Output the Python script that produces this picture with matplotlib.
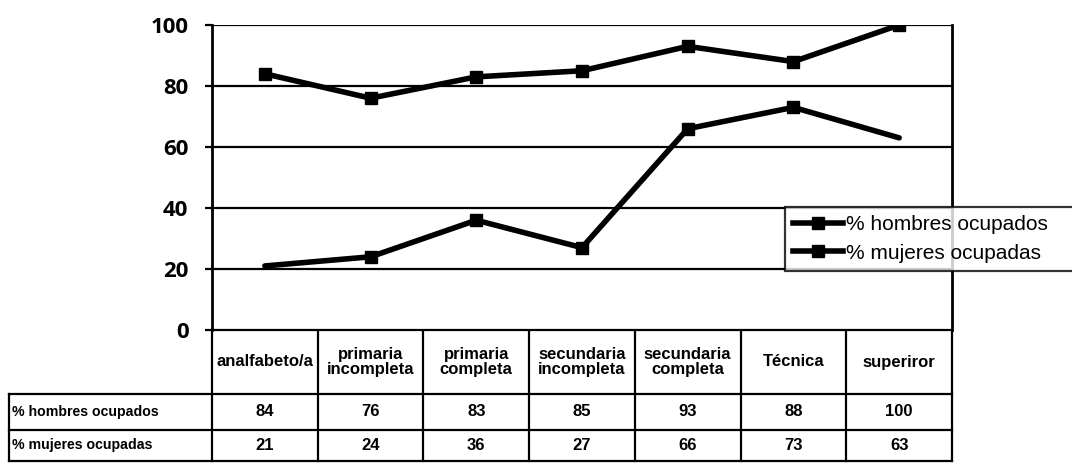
import matplotlib
matplotlib.use("Agg")
import matplotlib.pyplot as plt
from matplotlib.lines import Line2D

categories = ["analfabeto/a", "primaria\nincompleta", "primaria\ncompleta",
              "secundaria\nincompleta", "secundaria\ncompleta", "Técnica", "superiror"]
hombres = [84, 76, 83, 85, 93, 88, 100]
mujeres = [21, 24, 36, 27, 66, 73, 63]
series_names = ["% hombres ocupados", "% mujeres ocupadas"]
yticks = [0, 20, 40, 60, 80, 100]

W, H = 1072, 463
fig = plt.figure(figsize=(W / 100, H / 100), dpi=100)

# plot area in pixels
x0, x1, ytop, ybot = 212, 952, 25, 330
ax = fig.add_axes([x0 / W, 1 - ybot / H, (x1 - x0) / W, (ybot - ytop) / H])
n = len(categories)
xs = list(range(n))
ax.set_xlim(-0.5, n - 0.5)
ax.set_ylim(0, 100)

for v in yticks:
    ax.axhline(v, color="black", lw=1.6, zorder=1)
for side in ["left", "right"]:
    ax.spines[side].set_linewidth(2.0)
ax.spines["top"].set_visible(False)
ax.spines["bottom"].set_visible(False)
ax.set_xticks([])
ax.set_yticks(yticks)
ax.tick_params(axis="y", length=5, width=1.6, pad=12)
for lab in ax.get_yticklabels():
    lab.set_fontfamily("Open Sans")
    lab.set_fontweight("bold")
    lab.set_fontsize(16)

lw_line, ms = 4.0, 8
ax.plot(xs, hombres, color="black", lw=lw_line, marker="s", ms=ms,
        solid_joinstyle="round", solid_capstyle="round", zorder=3)
ax.plot(xs, mujeres, color="black", lw=lw_line, marker="s", ms=ms,
        markevery=[1, 2, 3, 4, 5], solid_joinstyle="round",
        solid_capstyle="round", zorder=3)

# legend (its frame runs past the right edge of the figure)
handles = [Line2D([], [], color="black", lw=lw_line, marker="s", ms=ms),
           Line2D([], [], color="black", lw=lw_line, marker="s", ms=ms)]
leg = fig.legend(handles, series_names, loc="lower left",
                 bbox_to_anchor=(785 / W, 1 - 271 / H, 330 / W, 69 / H),
                 mode="expand",
                 frameon=True, fancybox=False, edgecolor="black",
                 prop={"family": "Liberation Sans", "size": 15},
                 handlelength=2.4, handletextpad=0.15, borderpad=0.4,
                 labelspacing=0.45, borderaxespad=0)
leg.get_frame().set_linewidth(1.6)

# data table below the plot, in pixel coordinates
tab = fig.add_axes([0, 0, 1, 1], zorder=-1)
tab.set_xlim(0, W)
tab.set_ylim(H, 0)
tab.axis("off")

col_w = (x1 - x0) / n
row_y = [330, 394, 430, 461]
lx = 9
lw_tab = 1.6
# horizontal lines
tab.plot([x0, x1], [row_y[0], row_y[0]], color="black", lw=lw_tab)
for y in row_y[1:]:
    tab.plot([lx, x1], [y, y], color="black", lw=lw_tab)
# vertical lines
for i in range(n + 1):
    xv = x0 + i * col_w
    tab.plot([xv, xv], [row_y[0], row_y[-1]], color="black", lw=lw_tab)
tab.plot([lx, lx], [row_y[1], row_y[-1]], color="black", lw=lw_tab)

font_tab = {"family": "Liberation Sans", "weight": "bold"}
for i, c in enumerate(categories):
    tab.text(x0 + (i + 0.5) * col_w, (row_y[0] + row_y[1]) / 2, c,
             ha="center", va="center", fontsize=12, linespacing=1.0,
             **font_tab)
for r, (name, vals) in enumerate(zip(series_names, [hombres, mujeres])):
    yc = (row_y[r + 1] + row_y[r + 2]) / 2
    tab.text(lx + 3, yc, name, ha="left", va="center", fontsize=10.2,
             **font_tab)
    for i, v in enumerate(vals):
        tab.text(x0 + (i + 0.5) * col_w, yc, str(v), ha="center",
                 va="center", fontsize=12, **font_tab)

fig.savefig("out.png", dpi=100)
